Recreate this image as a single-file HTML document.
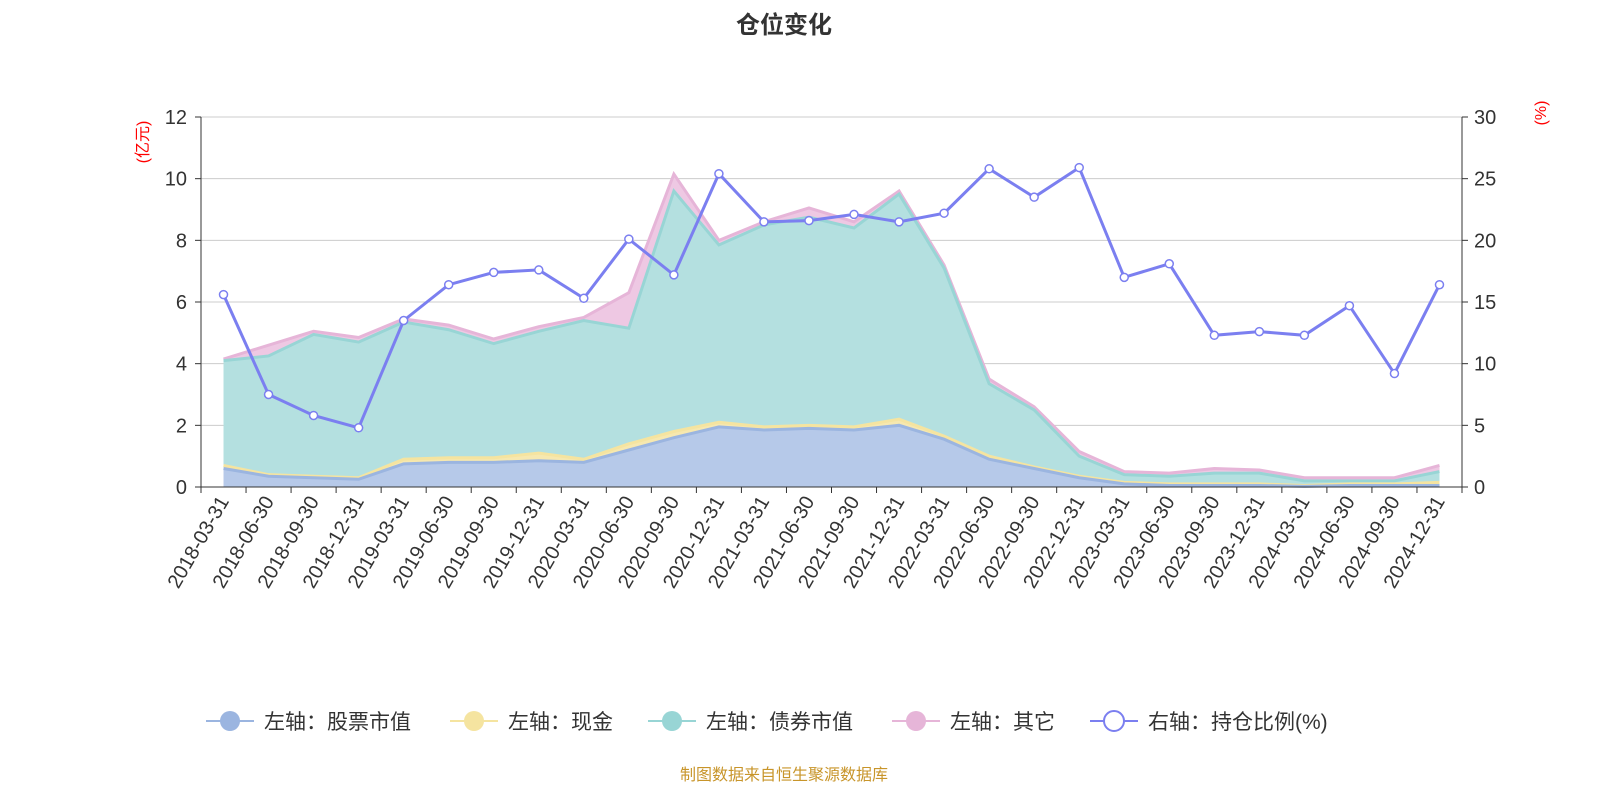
<!DOCTYPE html>
<html><head><meta charset="utf-8"><style>
body{margin:0;background:#fff;width:1600px;height:800px;overflow:hidden;font-family:"Liberation Sans","Noto Sans CJK SC",sans-serif;}
</style></head><body>
<svg id="c" width="1600" height="800" xmlns="http://www.w3.org/2000/svg" font-family="Liberation Sans, Noto Sans CJK SC, sans-serif"></svg>
<script>
const S=document.getElementById('c');let h='';
const L=201,R=1462,T=117,B=487,n=28,st=(R-L)/n;
const X=i=>L+st/2+st*i, YL=v=>B-(v/12)*(B-T), YR=v=>B-(v/30)*(B-T);
const dates=[];for(let y=2018;y<=2024;y++)for(const m of['03-31','06-30','09-30','12-31'])dates.push(y+'-'+m);
const stock=[0.6,0.35,0.3,0.25,0.75,0.8,0.8,0.85,0.8,1.2,1.6,1.95,1.85,1.9,1.85,2.0,1.55,0.9,0.6,0.3,0.1,0.05,0.05,0.05,0.02,0.05,0.05,0.05];
const cash=[0.7,0.4,0.35,0.3,0.9,0.95,0.95,1.1,0.9,1.4,1.8,2.1,1.95,2.0,1.95,2.2,1.65,1.0,0.65,0.35,0.15,0.1,0.1,0.1,0.05,0.1,0.1,0.15];
const bond=[4.1,4.25,4.95,4.7,5.35,5.1,4.65,5.05,5.4,5.15,9.6,7.85,8.5,8.75,8.4,9.5,7.1,3.35,2.5,1.0,0.4,0.35,0.45,0.45,0.2,0.2,0.2,0.5];
const oth=[4.15,4.6,5.05,4.85,5.45,5.25,4.8,5.2,5.5,6.3,10.15,8.0,8.6,9.05,8.6,9.6,7.2,3.5,2.6,1.15,0.5,0.45,0.6,0.55,0.3,0.3,0.3,0.7];
const ratio=[15.6,7.5,5.8,4.8,13.5,16.4,17.4,17.6,15.3,20.1,17.2,25.4,21.5,21.6,22.1,21.5,22.2,25.8,23.5,25.9,17.0,18.1,12.3,12.6,12.3,14.7,9.2,16.4];
h+=`<text x="784" y="33" text-anchor="middle" font-size="24" font-weight="bold" fill="#333">仓位变化</text>`;
for(let k=0;k<=6;k++){const y=YL(k*2);h+=`<line x1="${L}" x2="${R}" y1="${y}" y2="${y}" stroke="#ccc"/>`;
h+=`<text x="${L-14}" y="${y+7}" text-anchor="end" font-size="20" fill="#333">${k*2}</text>`;
h+=`<text x="${R+12}" y="${y+7}" font-size="20" fill="#333">${k*5}</text>`;
h+=`<line x1="${L-6}" x2="${L}" y1="${y}" y2="${y}" stroke="#333"/><line x1="${R}" x2="${R+6}" y1="${y}" y2="${y}" stroke="#333"/>`;}
function area(top,bot,fill,line){let p=top.map((v,i)=>X(i)+','+YL(v));let q=bot?bot.map((v,i)=>X(i)+','+YL(v)).reverse():[X(n-1)+','+B,X(0)+','+B];
h+=`<polygon points="${p.concat(q).join(' ')}" fill="${fill}"/><polyline points="${p.join(' ')}" fill="none" stroke="${line}" stroke-width="3"/>`;}
area(oth,bond,'#eec8e3','#e6b5d8');area(bond,cash,'#b4e0e0','#98d5d5');area(cash,stock,'#f6e8b0','#f5e4a0');area(stock,null,'#b6c9e9','#9bb5e0');
h+=`<line x1="${L}" x2="${L}" y1="${T}" y2="${B}" stroke="#333"/><line x1="${R}" x2="${R}" y1="${T}" y2="${B}" stroke="#333"/><line x1="${L}" x2="${R}" y1="${B}" y2="${B}" stroke="#333"/>`;
for(let i=0;i<=n;i++){const x=L+st*i;h+=`<line x1="${x}" x2="${x}" y1="${B}" y2="${B+6}" stroke="#333"/>`;}
dates.forEach((d,i)=>{h+=`<text transform="translate(${X(i)+6},${B+14}) rotate(-60)" text-anchor="end" font-size="20" fill="#333">${d}</text>`;});
h+=`<polyline points="${ratio.map((v,i)=>X(i)+','+YR(v)).join(' ')}" fill="none" stroke="#7b7ff0" stroke-width="3"/>`;
ratio.forEach((v,i)=>{h+=`<circle cx="${X(i)}" cy="${YR(v)}" r="4" fill="#fff" stroke="#7b7ff0" stroke-width="1.5"/>`;});
h+=`<text transform="translate(148,142) rotate(-90)" text-anchor="middle" font-size="16" fill="red">(亿元)</text>`;
h+=`<text transform="translate(1546,113) rotate(-90)" text-anchor="middle" font-size="16" fill="red">(%)</text>`;
const lg=[[206,'#9bb5e0','左轴：股票市值',false],[450,'#f5e4a0','左轴：现金',false],[648,'#98d5d5','左轴：债券市值',false],[892,'#e6b5d8','左轴：其它',false],[1090,'#7b7ff0','右轴：持仓比例(%)',true]];
lg.forEach(([x,c,t,o])=>{h+=`<line x1="${x}" x2="${x+48}" y1="721" y2="721" stroke="${c}" stroke-width="2"/><circle cx="${x+24}" cy="721" r="10" fill="${o?'#fff':c}" stroke="${c}" stroke-width="${o?2:0}"/><text x="${x+58}" y="729" font-size="21" fill="#333">${t}</text>`;});
h+=`<text x="784" y="780" text-anchor="middle" font-size="16" fill="#c8952a">制图数据来自恒生聚源数据库</text>`;
S.innerHTML=h;
</script>
</body></html>
